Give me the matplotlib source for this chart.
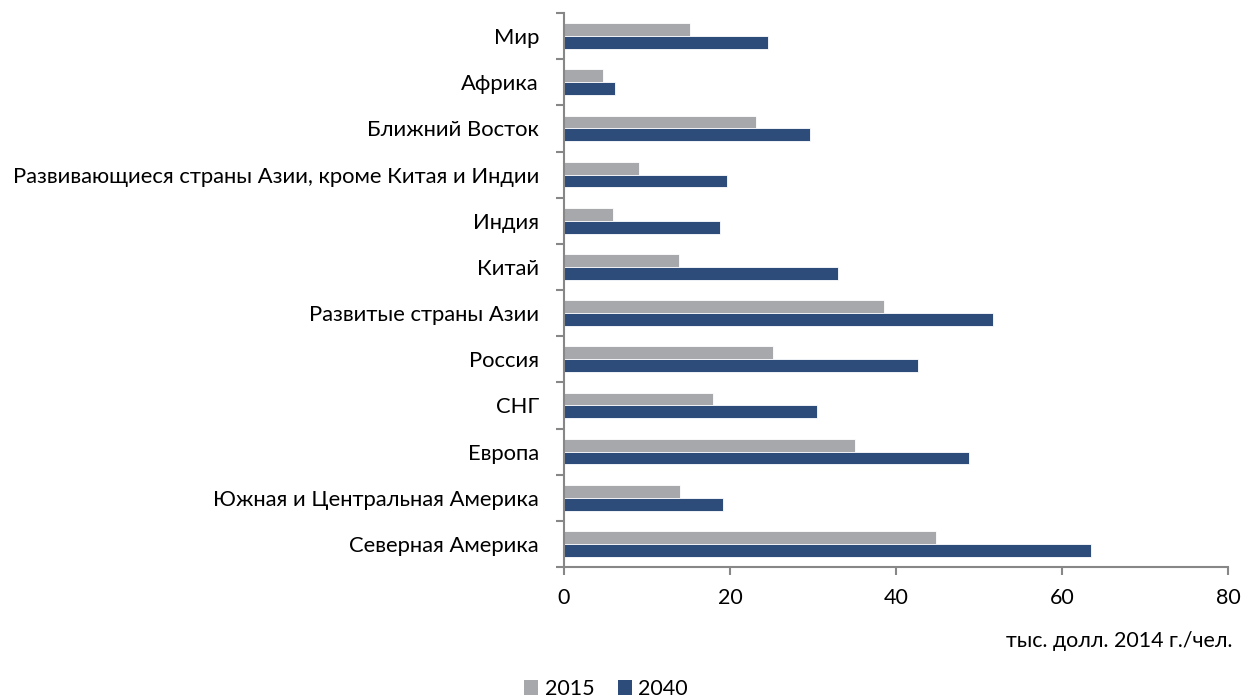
import matplotlib
matplotlib.use("Agg")
import matplotlib.pyplot as plt
import numpy as np
from matplotlib.patches import Patch

plt.rcParams['font.family'] = ['Lato', 'DejaVu Sans']

categories = [
    "Мир",
    "Африка",
    "Ближний Восток",
    "Развивающиеся страны Азии, кроме Китая и Индии",
    "Индия",
    "Китай",
    "Развитые страны Азии",
    "Россия",
    "СНГ",
    "Европа",
    "Южная и Центральная Америка",
    "Северная Америка",
]
values_2015 = [15.2, 4.7, 23.1, 9.0, 5.9, 13.9, 38.6, 25.2, 17.9, 35.0, 14.0, 44.8]
values_2040 = [24.6, 6.2, 29.6, 19.6, 18.8, 33.0, 51.7, 42.6, 30.5, 48.8, 19.1, 63.5]
series_names = ["2015", "2040"]
xticks = [0, 20, 40, 60, 80]
unit_label = "тыс. долл. 2014 г./чел."

c2015 = "#A6A8AB"
c2040 = "#2E4C7A"
axis_col = "#878787"

fig = plt.figure(figsize=(12.48, 7.0), dpi=100)
ax = fig.add_axes([564/1248, 1-567/700, (1228-564)/1248, (567-13)/700])

n = len(categories)
y = np.arange(n)
h = 0.277
ax.barh(y - h/2, values_2015, height=h, color=c2015, edgecolor="white", linewidth=0.6)
ax.barh(y + h/2, values_2040, height=h, color=c2040, edgecolor="white", linewidth=0.6)

ax.set_ylim(n - 0.5, -0.5)
ax.set_xlim(0, 80)
ax.set_xticks(xticks)
ax.set_xticklabels([str(t) for t in xticks], fontsize=15.5)
ax.set_yticks(y)
ax.set_yticklabels(categories, fontsize=15.8)
ax.set_yticks(np.arange(-0.5, n, 1.0), minor=True)
ax.tick_params(axis='y', which='major', length=0, pad=18)
ax.tick_params(axis='y', which='minor', length=6, width=1.5, color=axis_col, direction='out')
ax.tick_params(axis='x', which='major', length=6, width=1.5, color=axis_col, direction='out', pad=9)

for s in ['top', 'right']:
    ax.spines[s].set_visible(False)
for s in ['left', 'bottom']:
    ax.spines[s].set_color(axis_col)
    ax.spines[s].set_linewidth(1.5)

fig.text(1232/1248, 1-641/700, unit_label, ha='right', va='center', fontsize=15.4)

handles = [Patch(facecolor=c2015, label=series_names[0]),
           Patch(facecolor=c2040, label=series_names[1])]
fig.legend(handles=handles, loc='center', bbox_to_anchor=(606/1248, 1-689/700), ncol=2,
           frameon=False, fontsize=15.5, handlelength=0.65, handleheight=0.65,
           handletextpad=0.3, columnspacing=1.1, borderpad=0)

fig.savefig("out.png", dpi=100)
